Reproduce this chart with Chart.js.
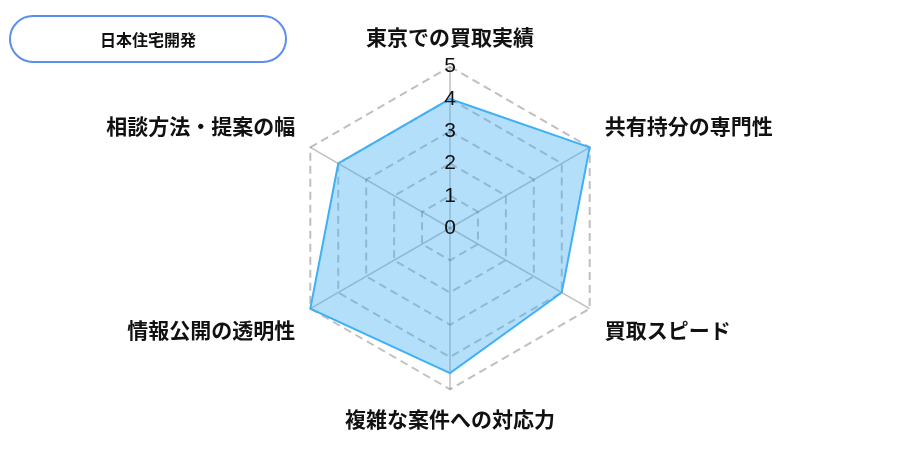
<!DOCTYPE html>
<html lang="ja">
<head>
<meta charset="utf-8">
<script src="https://cdn.jsdelivr.net/npm/chart.js@4"></script>
<style>
  html, body { margin: 0; padding: 0; background: #fff; }
  #wrap { position: relative; width: 900px; height: 450px; }
  #legendPill {
    position: absolute; left: 9px; top: 15px; width: 274px; height: 44px;
    border: 2px solid #5b8ef0; border-radius: 24px;
    font: 600 16px "Noto Sans CJK JP", sans-serif; color: #111;
    display: flex; align-items: center; justify-content: center;
  }
</style>
</head>
<body>
<div id="wrap">
  <canvas id="radar" width="900" height="450"></canvas>
  <div id="legendPill"></div>
</div>
<script>
// ===== データ =====
const seriesName = "日本住宅開発";
const categories = [
    "東京での買取実績",
    "共有持分の専門性",
    "買取スピード",
    "複雑な案件への対応力",
    "情報公開の透明性",
    "相談方法・提案の幅"
];
const scores = [4, 5, 4, 4.5, 5, 4];
const tickValues = [0, 1, 2, 3, 4, 5];

const tickFont = { family: "'Liberation Sans', Arial, sans-serif", size: 21 };

document.getElementById("legendPill").textContent = seriesName;

// Chart.js は中心の「0」を描かないので、目盛りと同じ書式で描く
const zeroTickLabel = {
    id: "zeroTickLabel",
    afterDraw(chart) {
        const r = chart.scales.r;
        const ctx = chart.ctx;
        ctx.save();
        ctx.font = `${tickFont.size}px ${tickFont.family}`;
        ctx.fillStyle = "#111";
        ctx.textAlign = "center";
        ctx.textBaseline = "middle";
        const y = r.yCenter - r.getDistanceFromCenterForValue(tickValues[0]);
        ctx.fillText(String(tickValues[0]), r.xCenter, y);
        ctx.restore();
    }
};

// ===== レーダーチャート =====
new Chart(document.getElementById("radar"), {
    type: "radar",
    data: {
        labels: categories,
        datasets: [{
            label: seriesName,
            data: scores,
            backgroundColor: "rgba(64, 176, 245, 0.4)",
            borderColor: "#3fb0f5",
            borderWidth: 2,
            pointRadius: 0,
            pointHoverRadius: 0
        }]
    },
    options: {
        responsive: false,
        animation: false,
        layout: { padding: { top: 24, bottom: 18 } },
        plugins: {
            legend: { display: false },
            tooltip: { enabled: false }
        },
        scales: {
            r: {
                min: 0,
                max: 5,
                afterBuildTicks: axis => {
                    axis.ticks = tickValues.map(v => ({ value: v }));
                },
                ticks: {
                    stepSize: 1,
                    showLabelBackdrop: false,
                    color: "#111",
                    font: tickFont,
                    z: 1
                },
                grid: {
                    color: "rgba(0, 0, 0, 0.25)",
                    lineWidth: 2
                },
                border: {
                    dash: [8, 5]
                },
                angleLines: {
                    color: "rgba(0, 0, 0, 0.25)",
                    lineWidth: 1.5
                },
                pointLabels: {
                    color: "#111",
                    padding: 5,
                    font: { family: "'Noto Sans CJK JP', sans-serif", size: 21, weight: "600" }
                }
            }
        }
    },
    plugins: [zeroTickLabel]
});
</script>
</body>
</html>
